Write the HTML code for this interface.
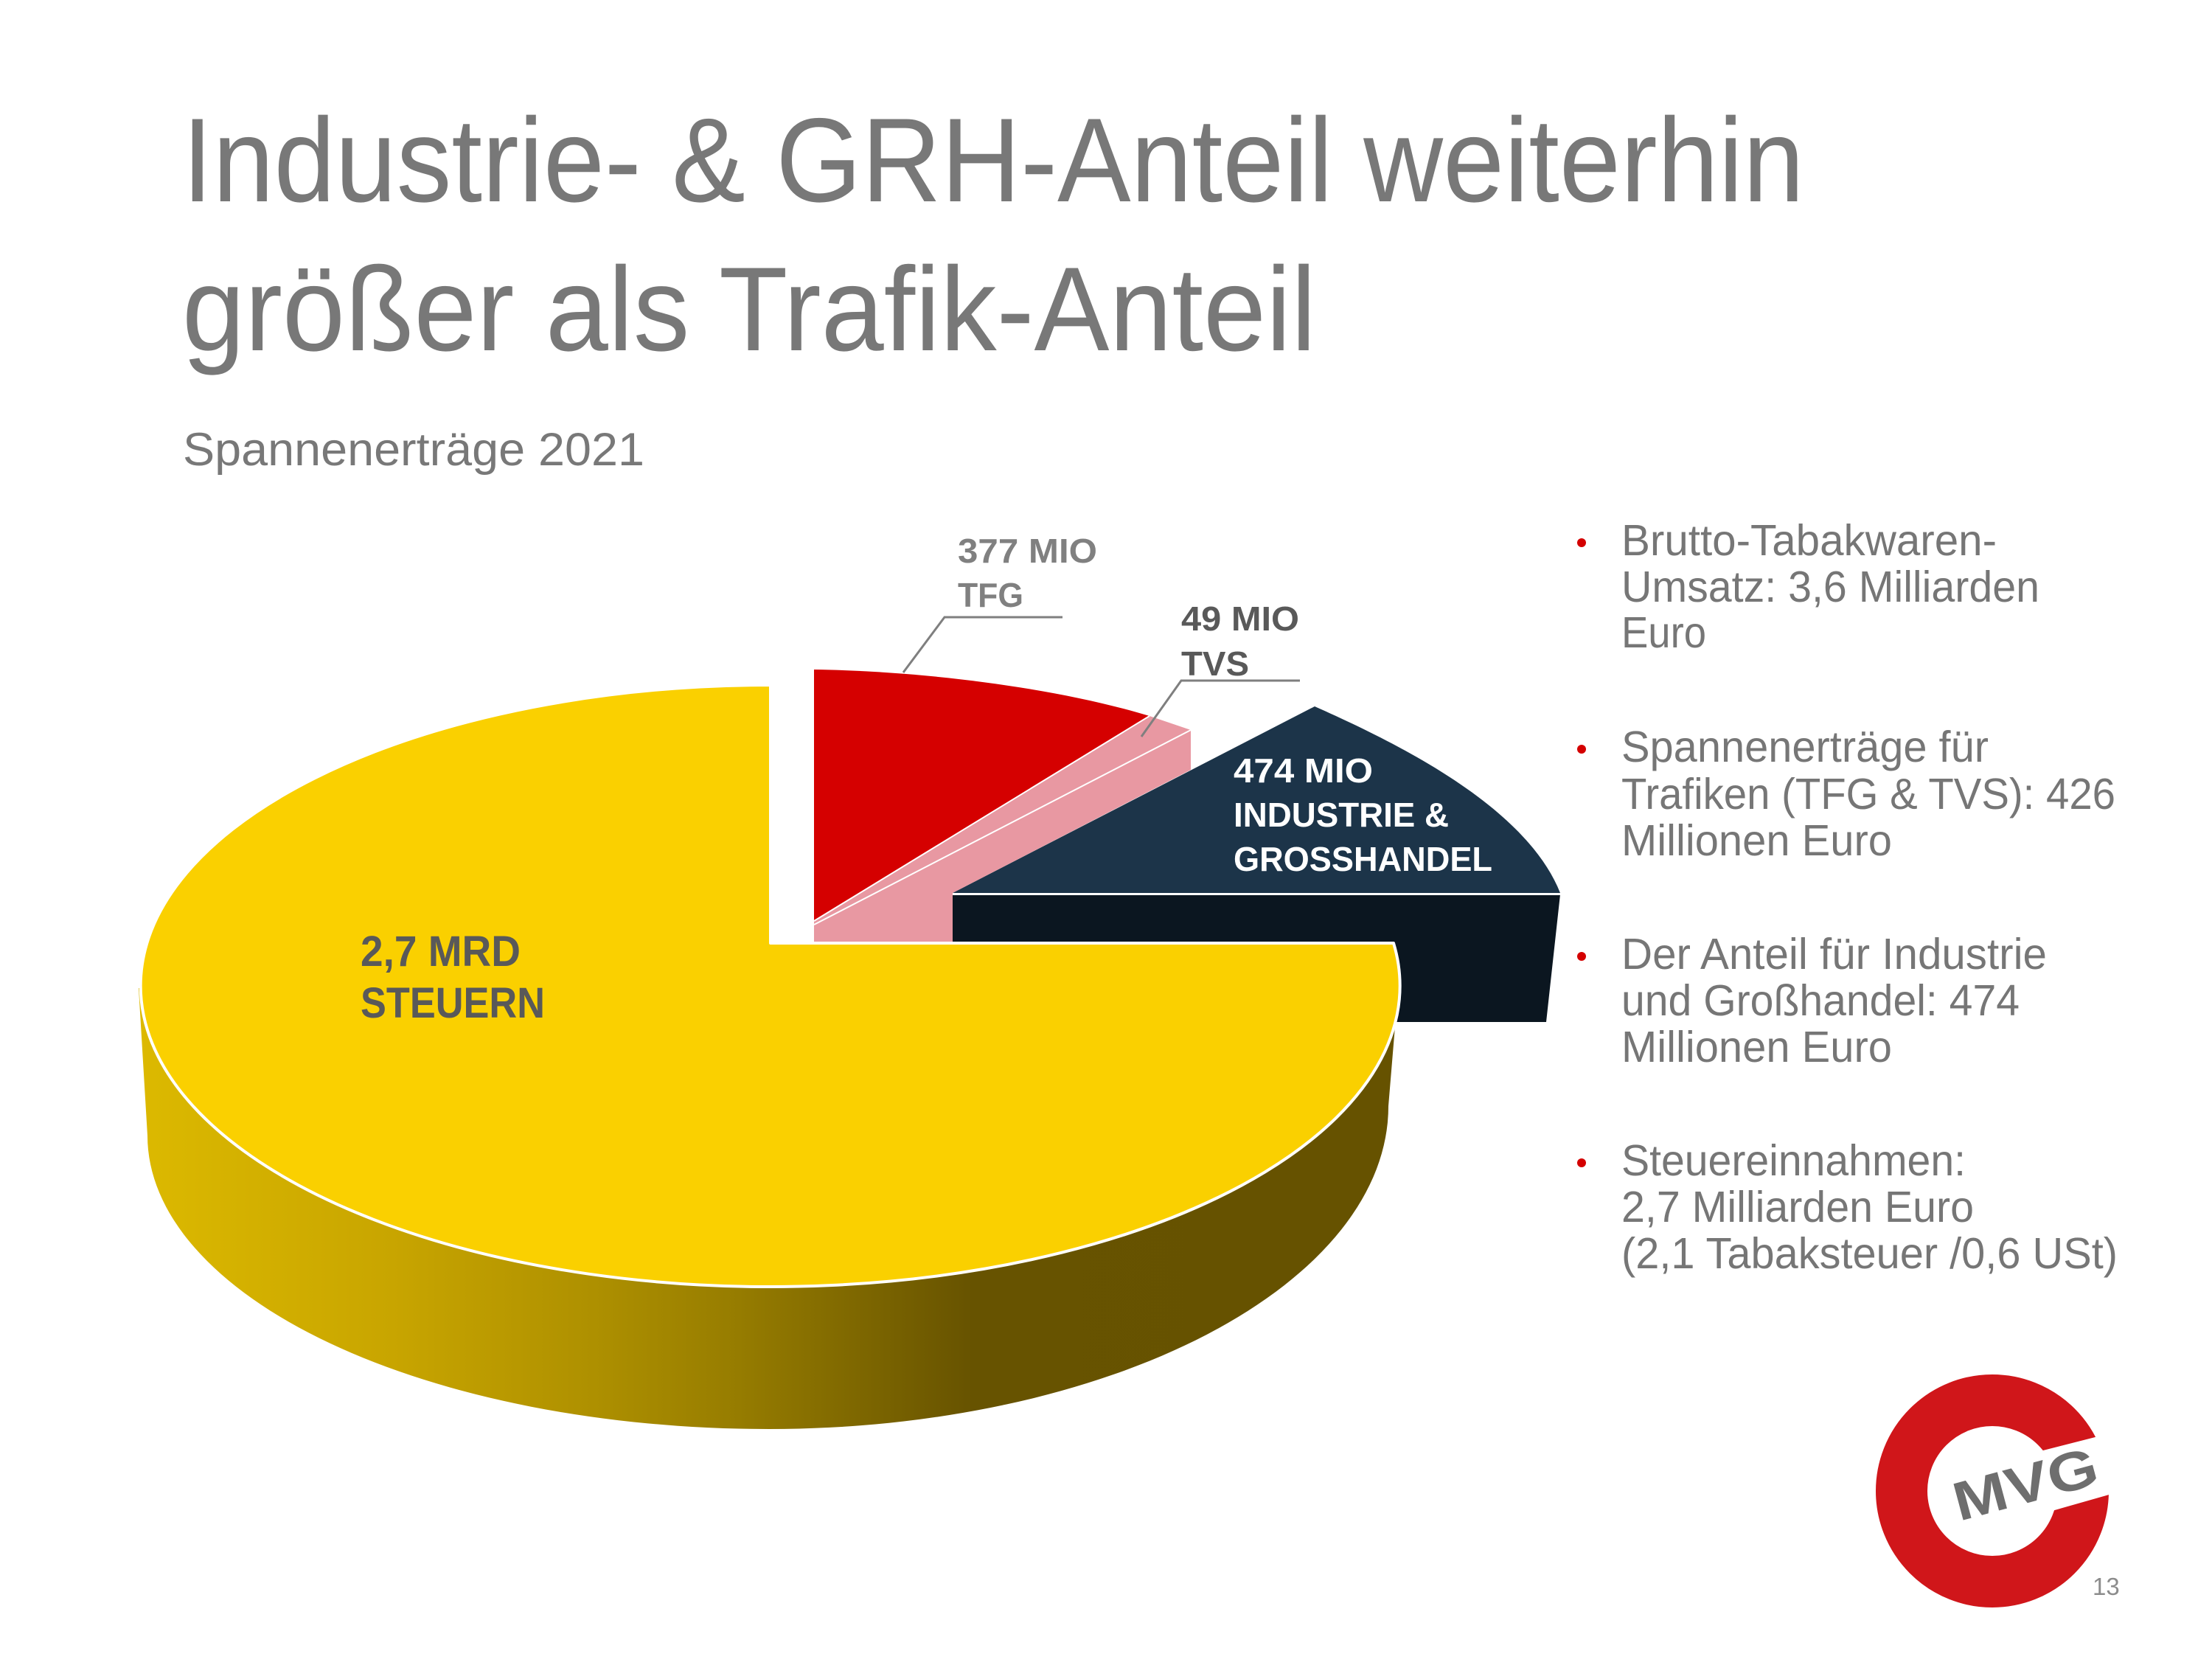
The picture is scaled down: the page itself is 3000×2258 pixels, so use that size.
<!DOCTYPE html>
<html><head><meta charset="utf-8"><style>
html,body{margin:0;padding:0;background:#fff;}
svg{display:block;}
</style></head><body>
<svg width="3000" height="2258" viewBox="0 0 3000 2258" xmlns="http://www.w3.org/2000/svg">
<defs>
<linearGradient id="side" gradientUnits="userSpaceOnUse" x1="190" y1="0" x2="1900" y2="0">
<stop offset="0" stop-color="#dcb900"/>
<stop offset="0.2" stop-color="#c8a500"/>
<stop offset="0.36" stop-color="#ae9000"/>
<stop offset="0.47" stop-color="#977d00"/>
<stop offset="0.66" stop-color="#675300"/>
<stop offset="1" stop-color="#665200"/>
</linearGradient>
</defs>
<rect width="3000" height="2258" fill="#fff"/>

<!-- Title -->
<g font-family="'Liberation Sans', sans-serif" fill="#787878">
<text x="247" y="273" font-size="162" textLength="2200" lengthAdjust="spacingAndGlyphs">Industrie- &amp; GRH-Anteil weiterhin</text>
<text x="247" y="475" font-size="162" textLength="1538" lengthAdjust="spacingAndGlyphs">größer als Trafik-Anteil</text>
<text x="248" y="631" font-size="63" textLength="626" lengthAdjust="spacingAndGlyphs">Spannenerträge 2021</text>
</g>

<!-- Navy front face -->
<polygon points="1291,1213 2116,1213 2097,1386 1880,1386 1880,1279 1291,1279" fill="#0b1620"/>
<!-- Navy top face -->
<path d="M1292,1211 L1783,958 C1900,1010 2070,1095 2116,1211 Z" fill="#1c3449"/>
<line x1="1292" y1="1212.5" x2="2116" y2="1212.5" stroke="#fff" stroke-width="3"/>

<!-- Pink -->
<polygon points="1104,1249 1559,971 1615,990 1615,1044 1292,1211 1292,1279 1104,1279" fill="#e898a2"/>
<line x1="1104" y1="1254" x2="1615" y2="990" stroke="#fff" stroke-width="2"/>
<!-- Red -->
<path d="M1104,908 C1250,910 1430,932 1559,971 L1104,1249 Z" fill="#d50000"/>
<line x1="1104" y1="1249" x2="1559" y2="971" stroke="#fff" stroke-width="2"/>

<!-- Yellow side -->
<path d="M188,1340 L200,1540 A843 398 0 0 0 1043,1938 A840 438 0 0 0 1883,1500 L1893,1380 L1896,1330 Z" fill="url(#side)"/>
<!-- Yellow top -->
<path d="M1045,1279 L1045,929 A854 408 0 1 0 1890,1279 Z" fill="#fad000" stroke="#fff" stroke-width="4" stroke-linejoin="round"/>

<!-- Leader lines -->
<polyline points="1441,837 1281,837 1225,912" fill="none" stroke="#7f7f7f" stroke-width="3"/>
<polyline points="1763,923 1602,923 1548,999" fill="none" stroke="#7f7f7f" stroke-width="3"/>

<!-- Pie labels -->
<g font-family="'Liberation Sans', sans-serif" font-weight="bold">
<text x="1299" y="763" font-size="46" fill="#808080" textLength="189" lengthAdjust="spacingAndGlyphs">377 MIO</text>
<text x="1299" y="823" font-size="46" fill="#808080" textLength="89" lengthAdjust="spacingAndGlyphs">TFG</text>
<text x="1602" y="855" font-size="46" fill="#595959" textLength="160" lengthAdjust="spacingAndGlyphs">49 MIO</text>
<text x="1602" y="916" font-size="46" fill="#595959" textLength="92" lengthAdjust="spacingAndGlyphs">TVS</text>
<text x="1673" y="1061" font-size="46" fill="#fff" textLength="189" lengthAdjust="spacingAndGlyphs">474 MIO</text>
<text x="1673" y="1121" font-size="46" fill="#fff" textLength="292" lengthAdjust="spacingAndGlyphs">INDUSTRIE &amp;</text>
<text x="1673" y="1181" font-size="46" fill="#fff" textLength="351" lengthAdjust="spacingAndGlyphs">GROSSHANDEL</text>
<text x="489" y="1310" font-size="58" fill="#595959" textLength="217" lengthAdjust="spacingAndGlyphs">2,7 MRD</text>
<text x="489" y="1380" font-size="58" fill="#595959" textLength="250" lengthAdjust="spacingAndGlyphs">STEUERN</text>
</g>

<!-- Bullets -->
<g fill="#d40000">
<circle cx="2145" cy="736" r="6"/>
<circle cx="2145" cy="1016" r="6"/>
<circle cx="2145" cy="1297" r="6"/>
<circle cx="2145" cy="1577" r="6"/>
</g>
<g font-family="'Liberation Sans', sans-serif" font-size="59" fill="#767676">
<text x="2199" y="753" textLength="509" lengthAdjust="spacingAndGlyphs">Brutto-Tabakwaren-</text>
<text x="2199" y="816" textLength="567" lengthAdjust="spacingAndGlyphs">Umsatz: 3,6 Milliarden</text>
<text x="2199" y="878" textLength="115" lengthAdjust="spacingAndGlyphs">Euro</text>

<text x="2199" y="1033" textLength="498" lengthAdjust="spacingAndGlyphs">Spannenerträge für</text>
<text x="2199" y="1097" textLength="670" lengthAdjust="spacingAndGlyphs">Trafiken (TFG &amp; TVS): 426</text>
<text x="2199" y="1160" textLength="367" lengthAdjust="spacingAndGlyphs">Millionen Euro</text>

<text x="2199" y="1314" textLength="577" lengthAdjust="spacingAndGlyphs">Der Anteil für Industrie</text>
<text x="2199" y="1377" textLength="540" lengthAdjust="spacingAndGlyphs">und Großhandel: 474</text>
<text x="2199" y="1440" textLength="367" lengthAdjust="spacingAndGlyphs">Millionen Euro</text>

<text x="2199" y="1594" textLength="467" lengthAdjust="spacingAndGlyphs">Steuereinnahmen:</text>
<text x="2199" y="1657" textLength="478" lengthAdjust="spacingAndGlyphs">2,7 Milliarden Euro</text>
<text x="2199" y="1720" textLength="673" lengthAdjust="spacingAndGlyphs">(2,1 Tabaksteuer /0,6 USt)</text>
</g>

<!-- Logo -->
<circle cx="2702" cy="2022" r="123" fill="none" stroke="#d0161a" stroke-width="70"/>
<polygon points="2720,1980 2920,1929 2920,2010 2720,2067" fill="#fff"/>
<text x="2657" y="2063" transform="rotate(-15 2657 2063)" font-family="'Liberation Sans', sans-serif" font-weight="bold" font-size="74" fill="#6e6e6e" textLength="200" lengthAdjust="spacingAndGlyphs">MVG</text>

<!-- Page number -->
<text x="2838" y="2163" font-family="'Liberation Sans', sans-serif" font-size="33" fill="#8c8c8c">13</text>
</svg>
</body></html>
